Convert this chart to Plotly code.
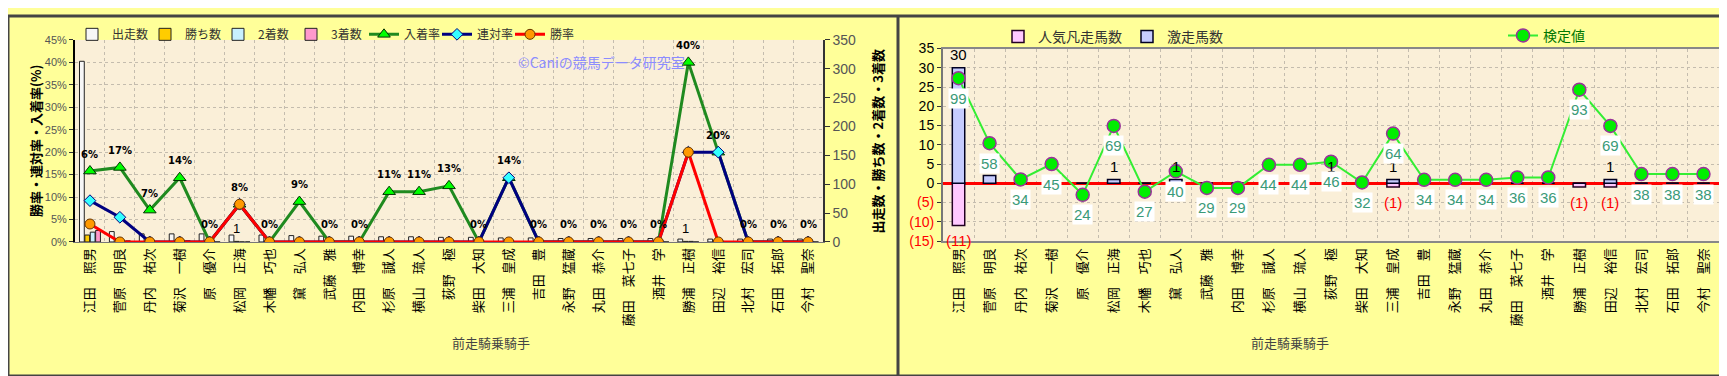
import plotly.graph_objects as go

jockeys = ["江田　照男", "菅原　明良", "丹内　祐次", "菊沢　一樹", "原　優介", "松岡　正海", "木幡　巧也",
           "黛　弘人", "武藤　雅", "内田　博幸", "杉原　誠人", "横山　琉人", "荻野　極", "柴田　大知",
           "三浦　皇成", "吉田　豊", "永野　猛蔵", "丸田　恭介", "藤田　菜七子", "酒井　学", "勝浦　正樹",
           "田辺　裕信", "北村　宏司", "石田　拓郎", "今村　聖奈"]

# left chart (counts on right axis, rates on left axis)
starts = [313, 18, 14, 14, 14, 12, 12, 11, 10, 10, 9, 9, 8, 8, 7, 7, 6, 6, 6, 6, 5, 5, 5, 5, 5]
wins = [12, 0, 0, 0, 0, 1, 0, 0, 0, 0, 0, 0, 0, 0, 0, 0, 0, 0, 0, 0, 1, 0, 0, 0, 0]
seconds = [17, 1, 0, 0, 0, 0, 0, 0, 0, 0, 0, 0, 0, 0, 1, 0, 0, 0, 0, 0, 1, 1, 0, 0, 0]
thirds = [20, 2, 1, 2, 0, 0, 0, 1, 0, 0, 1, 1, 1, 0, 0, 0, 0, 0, 0, 0, 0, 0, 0, 0, 0]
place_rate = [15.8, 16.6, 7.1, 14.3, 0, 8.4, 0, 9.0, 0, 0, 11.2, 11.2, 12.5, 0, 14.3, 0, 0, 0, 0, 0, 40.0, 20.0, 0, 0, 0]
rentai_rate = [9.2, 5.5, 0, 0, 0, 8.4, 0, 0, 0, 0, 0, 0, 0, 0, 14.3, 0, 0, 0, 0, 0, 20.0, 20.0, 0, 0, 0]
win_rate = [4.0, 0, 0, 0, 0, 8.4, 0, 0, 0, 0, 0, 0, 0, 0, 0, 0, 0, 0, 0, 0, 20.0, 0, 0, 0, 0]
rate_labels = ["6%", "17%", "7%", "14%", "0%", "8%", "0%", "9%", "0%", "0%", "11%", "11%", "13%", "0%",
               "14%", "0%", "0%", "0%", "0%", "0%", "40%", "20%", "0%", "0%", "0%"]
win_labels = ["", "", "", "", "", "1", "", "", "", "", "", "", "", "", "", "", "", "", "", "", "1", "", "", "", ""]
pct_ticks = [0, 5, 10, 15, 20, 25, 30, 35, 40, 45]
count_ticks = [0, 50, 100, 150, 200, 250, 300, 350]

# right chart
gekisou = [30, 2, 0, 0, 0, 1, 0, 1, 0, 0, 0, 0, 1, 0, 1, 0, 0, 0, 0, 0, 0, 1, 0, 0, 0]
bonsou = [-11, 0, 0, 0, 0, 0, 0, 0, 0, 0, 0, 0, 0, 0, -1, 0, 0, 0, 0, 0, -1, -1, 0, 0, 0]
gekisou_labels = ["30", "", "", "", "", "1", "", "1", "", "", "", "", "1", "", "1", "", "", "", "", "", "", "1", "", "", ""]
bonsou_labels = ["(11)", "", "", "", "", "", "", "", "", "", "", "", "", "", "(1)", "", "", "", "", "", "(1)", "(1)", "", "", ""]
kentei_pos = [27.3, 10.4, 1.0, 5.0, -3.0, 14.9, -2.2, 3.1, -1.2, -1.2, 4.8, 4.8, 5.6, 0.2, 12.9,
              0.9, 0.9, 0.9, 1.5, 1.5, 24.3, 14.9, 2.4, 2.4, 2.4]
kentei_labels = [99, 58, 34, 45, 24, 69, 27, 40, 29, 29, 44, 44, 46, 32, 64, 34, 34, 34, 36, 36, 93, 69, 38, 38, 38]
right_ticks = [-15, -10, -5, 0, 5, 10, 15, 20, 25, 30, 35]

W, H = 1727, 376
FONT = "Noto Sans CJK JP, sans-serif"
NUMFONT = "Liberation Sans, Arial, sans-serif"


def px_x(p):
    return p / W


def px_y(p):
    return 1 - p / H


fig = go.Figure()

bar_specs = [
    ("出走数", starts, "#F7F7F7", -0.35),
    ("勝ち数", wins, "#FFCC00", -0.17),
    ("2着数", seconds, "#C8F0FF", 0.01),
    ("3着数", thirds, "#FF99CC", 0.19),
]
for name, vals, col, off in bar_specs:
    fig.add_trace(go.Bar(x=jockeys, y=vals, name=name, xaxis="x", yaxis="y",
                         width=0.16, offset=off,
                         marker=dict(color=col, line=dict(color="#222222", width=1)),
                         legend="legend"))

fig.add_trace(go.Scatter(x=jockeys, y=place_rate, name="入着率", mode="lines+markers",
                         xaxis="x", yaxis="y2", legend="legend",
                         line=dict(color="#1F8A1F", width=3),
                         marker=dict(symbol="triangle-up", size=11, color="#00FF00",
                                     line=dict(color="#003300", width=1))))
fig.add_trace(go.Scatter(x=jockeys, y=rentai_rate, name="連対率", mode="lines+markers",
                         xaxis="x", yaxis="y2", legend="legend",
                         line=dict(color="#000080", width=3),
                         marker=dict(symbol="diamond", size=9, color="#33FFFF",
                                     line=dict(color="#000080", width=1))))
fig.add_trace(go.Scatter(x=jockeys, y=win_rate, name="勝率", mode="lines+markers",
                         xaxis="x", yaxis="y2", legend="legend",
                         line=dict(color="#FF0000", width=3),
                         marker=dict(symbol="circle", size=10, color="#FF9900",
                                     line=dict(color="#663300", width=1))))

# right chart traces
fig.add_trace(go.Bar(x=jockeys, y=bonsou, name="人気凡走馬数", xaxis="x2", yaxis="y3",
                     width=0.4, offset=-0.2, legend="legend2",
                     marker=dict(color="#FFC8FF", line=dict(color="#220022", width=1.5))))
fig.add_trace(go.Bar(x=jockeys, y=gekisou, name="激走馬数", xaxis="x2", yaxis="y3",
                     width=0.4, offset=-0.2, legend="legend2",
                     marker=dict(color="#C6CCFF", line=dict(color="#000022", width=1.5))))
fig.add_trace(go.Scatter(x=jockeys, y=kentei_pos, name="検定値", mode="lines+markers",
                         xaxis="x2", yaxis="y3", legend="legend3",
                         line=dict(color="#33EE33", width=2),
                         marker=dict(symbol="circle", size=13, color="#00EE00",
                                     line=dict(color="#993399", width=1.5))))

annotations = []
# left labels above the highest rate
for i, j in enumerate(jockeys):
    top = max(place_rate[i], rentai_rate[i], win_rate[i])
    annotations.append(dict(x=j, y=top, xref="x", yref="y2", text="<b>%s</b>" % rate_labels[i],
                            showarrow=False, yshift=17,
                            font=dict(size=10, color="#000000", family="DejaVu Sans")))
    if win_labels[i]:
        annotations.append(dict(x=j, y=wins[i], xref="x", yref="y", text=win_labels[i], showarrow=False,
                                yshift=13, xshift=-3, font=dict(size=13, color="#000000", family=NUMFONT)))
# right bar labels
for i, j in enumerate(jockeys):
    if gekisou_labels[i]:
        annotations.append(dict(x=j, y=gekisou[i], xref="x2", yref="y3", text=gekisou_labels[i],
                                showarrow=False, yshift=13, font=dict(size=15, color="#000000", family=NUMFONT)))
    if bonsou_labels[i]:
        annotations.append(dict(x=j, y=bonsou[i], xref="x2", yref="y3", text=bonsou_labels[i],
                                showarrow=False, yshift=-15, font=dict(size=15, color="#FF0000", family=NUMFONT)))
for i, j in enumerate(jockeys):
    annotations.append(dict(x=j, y=kentei_pos[i], xref="x2", yref="y3", text=str(kentei_labels[i]),
                            showarrow=False, yshift=-20, bgcolor="#FFFFFF", borderpad=1,
                            font=dict(size=15, color="#3A9A78", family=NUMFONT)))

# watermark & titles
annotations += [
    dict(x=px_x(593), y=px_y(35), xref="paper", yref="paper", text="©Caniの競馬データ研究室",
         showarrow=False, font=dict(size=14, color="#8C8CFF")),
    dict(x=px_x(442), y=px_y(353), xref="paper", yref="paper", text="前走騎乗騎手",
         showarrow=False, font=dict(size=13, color="#444444")),
    dict(x=px_x(1323), y=px_y(353), xref="paper", yref="paper", text="前走騎乗騎手",
         showarrow=False, font=dict(size=13, color="#444444")),
    dict(x=px_x(16), y=px_y(131), xref="paper", yref="paper", text="<b>勝率・連対率・入着率(%)</b>",
         showarrow=False, textangle=-90, font=dict(size=13, color="#000000")),
    dict(x=px_x(869), y=px_y(131), xref="paper", yref="paper", text="<b>出走数・勝ち数・2着数・3着数</b>",
         showarrow=False, textangle=-90, font=dict(size=13, color="#000000")),
]

right_ticktext = []
for v in right_ticks:
    if v < 0:
        right_ticktext.append("<span style='color:#FF0000'>(%d)</span>" % (-v))
    else:
        right_ticktext.append(str(v))
pct_ticktext = ["%d%%" % v for v in pct_ticks]

grid = dict(showgrid=True, gridcolor="#C4BCAE", griddash="dot", gridwidth=1)

fig.update_layout(
    width=W, height=H,
    margin=dict(l=0, r=0, t=0, b=0),
    paper_bgcolor="#FFFF99",
    plot_bgcolor="#FAEFD8",
    font=dict(family=FONT, size=13, color="#333333"),
    barmode="overlay",
    showlegend=True,
    xaxis=dict(domain=[px_x(67), px_x(815)], anchor="y", type="category", range=[-0.5, 24.5],
               tickson="boundaries", tickangle=-90, ticks="",
               tickfont=dict(size=13, color="#000000", family=FONT),
               showline=True, linecolor="#777777", linewidth=1, **grid),
    yaxis=dict(domain=[px_y(236), px_y(25)], anchor="x", side="right", range=[0, 350],
               tickvals=count_ticks, showgrid=False, zeroline=False,
               ticks="outside", ticklen=5, tickcolor="#333333",
               tickfont=dict(size=14, color="#555555", family=NUMFONT),
               showline=True, linecolor="#333333", linewidth=1.5),
    yaxis2=dict(overlaying="y", anchor="x", side="left", range=[0, 45], tickvals=pct_ticks,
                ticktext=pct_ticktext, zeroline=False, ticks="outside", ticklen=4, tickcolor="#333333",
                tickfont=dict(size=11, color="#555555", family=NUMFONT),
                showline=True, linecolor="#000000", linewidth=2, **grid),
    xaxis2=dict(domain=[px_x(935), px_x(1711)], anchor="y3", type="category", range=[-0.5, 24.5],
                tickson="boundaries", tickangle=-90, ticks="",
                tickfont=dict(size=13, color="#000000", family=FONT),
                showline=True, linecolor="#888888", linewidth=2, mirror=True, **grid),
    yaxis3=dict(domain=[px_y(235), px_y(34)], anchor="x2", range=[-15, 35],
                tickvals=right_ticks, ticktext=right_ticktext, ticks="outside", ticklen=4,
                tickcolor="#333333",
                tickfont=dict(size=14, color="#000000", family=NUMFONT),
                zeroline=True, zerolinecolor="#FF0000", zerolinewidth=3,
                showline=True, linecolor="#777777", linewidth=2, mirror=True, **grid),
    legend=dict(orientation="h", x=px_x(64), y=px_y(4), xanchor="left", yanchor="top",
                bgcolor="rgba(0,0,0,0)", font=dict(size=12, color="#333333"),
                itemwidth=30, entrywidth=28, entrywidthmode="pixels", tracegroupgap=0),
    legend2=dict(orientation="h", x=px_x(990), y=px_y(5), xanchor="left", yanchor="top",
                 bgcolor="rgba(0,0,0,0)", font=dict(size=14, color="#333333"), itemwidth=30),
    legend3=dict(orientation="h", x=px_x(1495), y=px_y(4), xanchor="left", yanchor="top",
                 bgcolor="rgba(0,0,0,0)", font=dict(size=14, color="#007700"), itemwidth=30),
    annotations=annotations,
    shapes=[
        dict(type="rect", xref="paper", yref="paper", x0=0, y0=0, x1=1, y1=1,
             line=dict(color="#444444", width=3), fillcolor="rgba(0,0,0,0)"),
        dict(type="line", xref="paper", yref="paper", x0=px_x(890), x1=px_x(890), y0=0, y1=1,
             line=dict(color="#444444", width=3)),
    ],
)

fig.write_html("out.html")
